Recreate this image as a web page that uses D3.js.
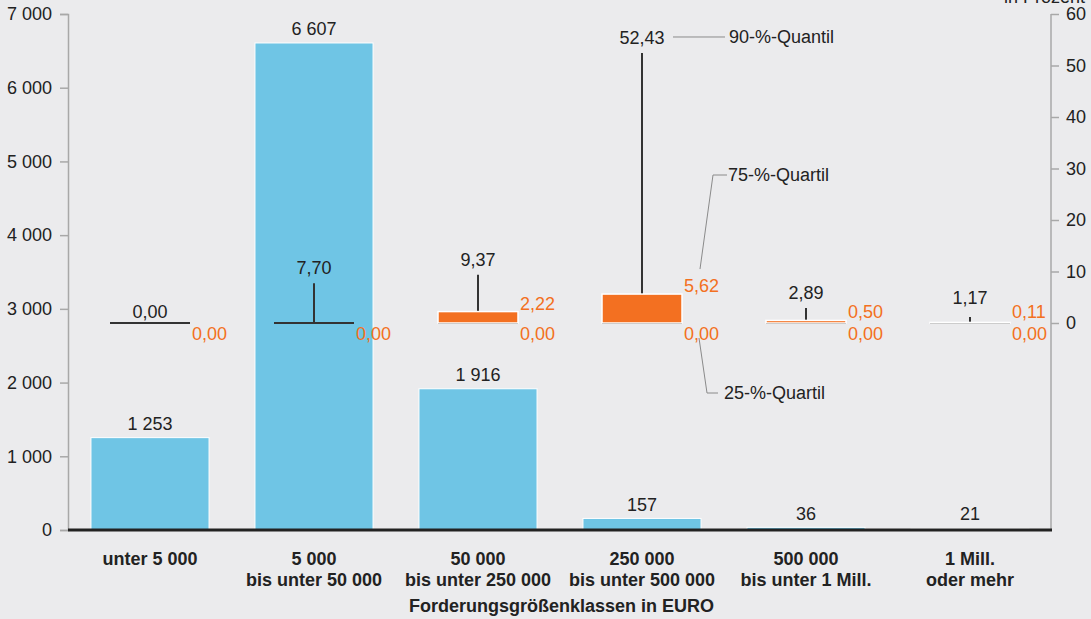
<!DOCTYPE html>
<html><head><meta charset="utf-8">
<script src="https://cdn.jsdelivr.net/npm/d3@7"></script>
<style>
html,body{margin:0;padding:0;background:#ebebed;}
svg{display:block;font-family:"Liberation Sans",Arial,sans-serif;}
</style></head>
<body><svg id="c" width="1091" height="619"></svg>
<script>
// ---- data ----
const categories = ["unter 5 000", "5 000\nbis unter 50 000", "50 000\nbis unter 250 000", "250 000\nbis unter 500 000", "500 000\nbis unter 1 Mill.", "1 Mill.\noder mehr"];
const counts = [1253, 6607, 1916, 157, 36, 21];
const countLabels = ["1 253", "6 607", "1 916", "157", "36", "21"];
const q25 = [0, 0, 0, 0, 0, 0];
const q75 = [0, 0, 2.22, 5.62, 0.50, 0.11];
const q90 = [0, 7.70, 9.37, 52.43, 2.89, 1.17];
const leftTicks = [0, 1000, 2000, 3000, 4000, 5000, 6000, 7000];
const rightTicks = [0, 10, 20, 30, 40, 50, 60];
const xTitle = "Forderungsgrößenklassen in EURO";
const rightTitle = "in Prozent";
const annot = ["90-%-Quantil", "75-%-Quartil", "25-%-Quartil"];

const fmtDE = v => v.toFixed(2).replace(".", ",");
const fmtTh = v => v === 0 ? "0" : d3.format(",")(v).replace(/,/g, " ");

const svg = d3.select("#c");
const L = 68, R = 1051, T = 14, B = 530;
const x = d3.scaleBand().domain(d3.range(categories.length)).range([L, R + 1]).paddingInner(0.28).paddingOuter(0.14);
const yL = d3.scaleLinear().domain([0, 7000]).range([B, T]);
const yR = d3.scaleLinear().domain([0, 60]).range([323, T]);

const BLUE = "#6fc5e5", ORANGE = "#f37021", DARK = "#222", GREY = "#a8a8a8";

// left axis
const axL = svg.append("g").attr("transform", `translate(${L},0)`)
  .call(d3.axisLeft(yL).tickValues(leftTicks).tickFormat(fmtTh).tickSize(8).tickPadding(8));
axL.select(".domain").attr("stroke", GREY).attr("stroke-width", 1.5);
axL.selectAll(".tick line").attr("stroke", GREY).attr("stroke-width", 1.5);
axL.selectAll(".tick text").attr("fill", DARK).style("font-size", "18px").style("font-family", "Liberation Sans, Arial, sans-serif");

// right axis
svg.append("line").attr("x1", R).attr("x2", R).attr("y1", T).attr("y2", B).attr("stroke", GREY).attr("stroke-width", 1.5);
const axR = svg.append("g").attr("transform", `translate(${R},0)`)
  .call(d3.axisRight(yR).tickValues(rightTicks).tickFormat(d => d).tickSize(8).tickPadding(7));
axR.select(".domain").remove();
axR.selectAll(".tick line").attr("stroke", GREY).attr("stroke-width", 1.5);
axR.selectAll(".tick text").attr("fill", DARK).style("font-size", "18px").style("font-family", "Liberation Sans, Arial, sans-serif");
svg.append("text").attr("x", 1085).attr("y", 3).attr("text-anchor", "end")
  .attr("fill", DARK).style("font-size", "18px").text(rightTitle);

// bars
svg.selectAll("rect.bar").data(counts).join("rect").attr("class", "bar")
  .attr("x", (d, i) => x(i)).attr("width", x.bandwidth())
  .attr("y", d => yL(d)).attr("height", d => B - yL(d))
  .attr("fill", BLUE).attr("stroke", "#fff").attr("stroke-width", 1);
svg.selectAll("text.bl").data(counts).join("text").attr("class", "bl")
  .attr("x", (d, i) => x(i) + x.bandwidth() / 2)
  .attr("y", d => Math.min(yL(d) - 7.5, 520))
  .attr("text-anchor", "middle").attr("fill", DARK).style("font-size", "18px")
  .text((d, i) => countLabels[i]);

// baseline
svg.append("line").attr("x1", L).attr("x2", R + 1).attr("y1", B).attr("y2", B).attr("stroke", DARK).attr("stroke-width", 3);

// box plots
const bw = 80;
categories.forEach((c, i) => {
  const cx = x(i) + x.bandwidth() / 2;
  const g = svg.append("g");
  g.append("line").attr("x1", cx).attr("x2", cx).attr("y1", yR(q75[i])).attr("y2", yR(q90[i]))
    .attr("stroke", "#333").attr("stroke-width", 2);
  g.append("line").attr("x1", cx - bw / 2).attr("x2", cx + bw / 2).attr("y1", yR(q25[i])).attr("y2", yR(q25[i]))
    .attr("stroke", "#333").attr("stroke-width", 2);
  if (q75[i] > q25[i]) {
    g.append("rect").attr("x", cx - bw / 2).attr("width", bw)
      .attr("y", yR(q75[i])).attr("height", yR(q25[i]) - yR(q75[i]))
      .attr("fill", ORANGE).attr("stroke", "#fff").attr("stroke-width", 1.5);
    g.append("text").attr("x", cx + bw / 2 + 2).attr("y", Math.min(yR(q75[i]) - 2, yR(0) - 5))
      .attr("fill", ORANGE).style("font-size", "18px").text(fmtDE(q75[i]));
  }
  g.append("text").attr("x", cx + bw / 2 + 2).attr("y", yR(q25[i]) + 16.5)
    .attr("fill", ORANGE).style("font-size", "18px").text(fmtDE(q25[i]));
  const ly = q90[i] === 0 ? yR(0) - 5 : Math.min(yR(q90[i]) - 9, 304);
  g.append("text").attr("x", cx).attr("y", ly).attr("text-anchor", "middle")
    .attr("fill", DARK).style("font-size", "18px").text(fmtDE(q90[i]));
  const lines = c.split("\n");
  const t = svg.append("text").attr("text-anchor", "middle").attr("fill", DARK)
    .style("font-size", "18px").style("font-weight", "bold");
  lines.forEach((ln, k) => t.append("tspan").attr("x", cx).attr("y", 565 + k * 20.5).text(ln));
});

// x title
svg.append("text").attr("x", (L + R) / 2 + 2).attr("y", 612).attr("text-anchor", "middle")
  .attr("fill", DARK).style("font-size", "18px").style("font-weight", "bold").text(xTitle);

// annotations for the 250 000 box
const ai = 3, acx = x(ai) + x.bandwidth() / 2, abr = acx + bw / 2;
const ann = svg.append("g").attr("fill", "none").attr("stroke", "#8a8a8a").attr("stroke-width", 1);
const y90 = yR(q90[ai]) - 16;
ann.append("line").attr("x1", acx + 31).attr("x2", acx + 83).attr("y1", y90).attr("y2", y90);
svg.append("text").attr("x", acx + 87).attr("y", y90 + 6).attr("fill", DARK).style("font-size", "18px").text(annot[0]);
ann.append("polyline").attr("points", `${abr + 18},${yR(q75[ai]) - 25} ${abr + 31},175 ${abr + 45},175`);
svg.append("text").attr("x", abr + 46).attr("y", 181).attr("fill", DARK).style("font-size", "18px").text(annot[1]);
ann.append("polyline").attr("points", `${abr + 17},${yR(q25[ai]) + 15} ${abr + 25},393 ${abr + 36},393`);
svg.append("text").attr("x", abr + 42).attr("y", 399).attr("fill", DARK).style("font-size", "18px").text(annot[2]);
</script></body></html>
